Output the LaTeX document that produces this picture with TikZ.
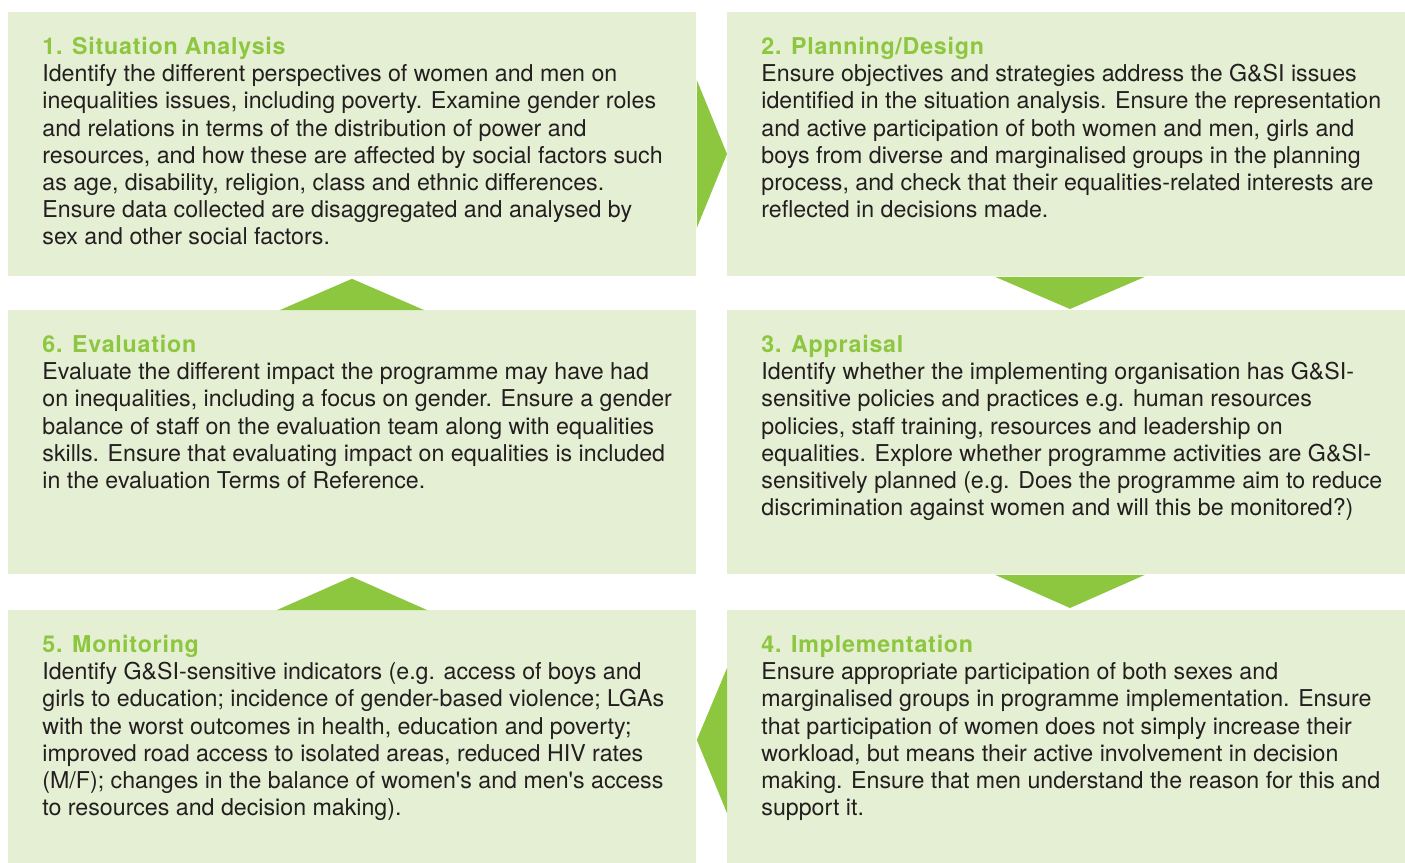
\documentclass[tikz,border=0pt]{standalone}
\usepackage{fontspec}
\setmainfont{TeX Gyre Heros}
\usepackage{xcolor}
\usetikzlibrary{calc}

\definecolor{panelfill}{HTML}{E5EFD3}
\definecolor{leafgreen}{HTML}{8DC63F}
\definecolor{bodyink}{HTML}{231F20}

\newcommand{\stagehead}[1]{\rule{0pt}{10pt}{\bfseries\addfontfeature{LetterSpace=3.4}\color{leafgreen}#1}}

\begin{document}
\begin{tikzpicture}[
    x=0.5pt, y=-0.5pt,
    panel/.style={fill=panelfill, inner sep=0pt, anchor=north west, minimum height=132pt},
    wide/.style={panel, minimum width=344pt},
    narrow/.style={panel, minimum width=339pt},
    txt/.style={anchor=north west, align=left, inner sep=0pt, text=bodyink,
      font=\fontsize{11.6}{13.6}\selectfont},
    pointer/.style={fill=leafgreen}
  ]
    \useasboundingbox (0,0) rectangle (1405,863);

    % panels
    \node[wide] (sit) at (8,12) {};
    \node[narrow] (plan) at (727,12) {};
    \node[wide] (eval) at (8,310) {};
    \node[narrow] (appr) at (727,310) {};
    \node[wide, minimum height=126.5pt] (mon) at (8,610) {};
    \node[narrow, minimum height=126.5pt] (impl) at (727,610) {};

    % texts
    \node[txt] (sittxt) at (42,34) {\stagehead{1. Situation Analysis}\\
      Identify the different perspectives of women and men on\\
      inequalities issues, including poverty. Examine gender roles\\
      and relations in terms of the distribution of power and\\
      resources, and how these are affected by social factors such\\
      as age, disability, religion, class and ethnic differences.\\
      Ensure data collected are disaggregated and analysed by\\
      sex and other social factors.};
    \node[txt] (plantxt) at (761,34) {\stagehead{2. Planning/Design}\\
      Ensure objectives and strategies address the G\&SI issues\\
      identified in the situation analysis. Ensure the representation\\
      and active participation of both women and men, girls and\\
      boys from diverse and marginalised groups in the planning\\
      process, and check that their equalities-related interests are\\
      reflected in decisions made.};
    \node[txt] (evaltxt) at (42,332) {\stagehead{6. Evaluation}\\
      Evaluate the different impact the programme may have had\\
      on inequalities, including a focus on gender. Ensure a gender\\
      balance of staff on the evaluation team along with equalities\\
      skills. Ensure that evaluating impact on equalities is included\\
      in the evaluation Terms of Reference.};
    \node[txt] (apprtxt) at (761,332) {\stagehead{3. Appraisal}\\
      Identify whether the implementing organisation has G\&SI-\\
      sensitive policies and practices e.g. human resources\\
      policies, staff training, resources and leadership on\\
      equalities. Explore whether programme activities are G\&SI-\\
      sensitively planned (e.g. Does the programme aim to reduce\\
      discrimination against women and will this be monitored?)};
    \node[txt] (montxt) at (42,632) {\stagehead{5. Monitoring}\\
      Identify G\&SI-sensitive indicators (e.g. access of boys and\\
      girls to education; incidence of gender-based violence; LGAs\\
      with the worst outcomes in health, education and poverty;\\
      improved road access to isolated areas, reduced HIV rates\\
      (M/F); changes in the balance of women\textquotesingle s and men\textquotesingle s access\\
      to resources and decision making).};
    \node[txt] (impltxt) at (761,632) {\stagehead{4. Implementation}\\
      Ensure appropriate participation of both sexes and\\
      marginalised groups in programme implementation. Ensure\\
      that participation of women does not simply increase their\\
      workload, but means their active involvement in decision\\
      making. Ensure that men understand the reason for this and\\
      support it.};

    % pointers between panels
    \fill[pointer] ($(sit.north east)+(0,68)$) -- ($(plan.north west)+(0,142)$) -- ($(sit.north east)+(0,216)$) -- cycle;
    \fill[pointer] ($(plan.south west)+(268,0)$) -- ($(appr.north west)+(343,-1)$) -- ($(plan.south west)+(418,0)$) -- cycle;
    \fill[pointer] ($(appr.south west)+(268,0)$) -- ($(impl.north west)+(343,-2)$) -- ($(appr.south west)+(418,0)$) -- cycle;
    \fill[pointer] ($(impl.north west)+(0,58)$) -- ($(mon.north east)+(0,130)$) -- ($(impl.north west)+(0,203)$) -- cycle;
    \fill[pointer] ($(mon.north west)+(269,0)$) -- ($(eval.south west)+(344,2)$) -- ($(mon.north west)+(419,0)$) -- cycle;
    \fill[pointer] ($(eval.north west)+(272,0)$) -- ($(sit.south west)+(344,2)$) -- ($(eval.north west)+(416,0)$) -- cycle;
\end{tikzpicture}
\end{document}
